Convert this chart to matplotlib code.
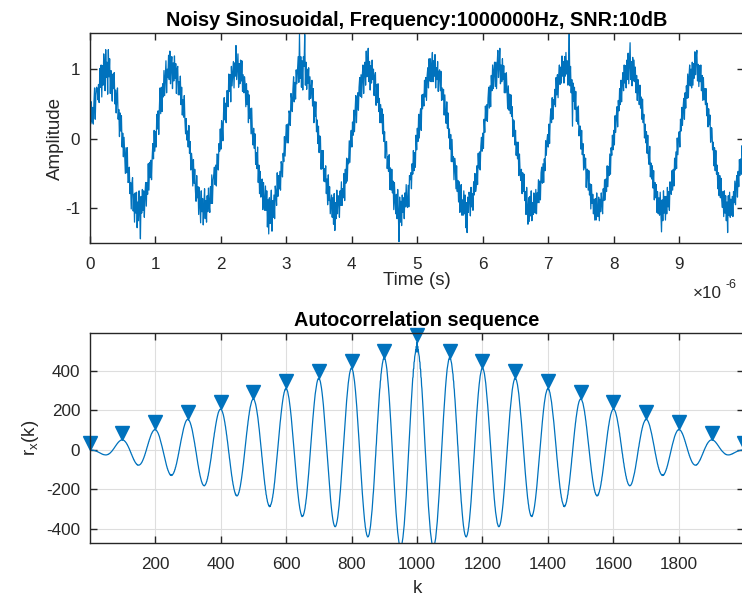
import numpy as np
import matplotlib
matplotlib.use("Agg")
import matplotlib.pyplot as plt
from matplotlib.ticker import FuncFormatter, FixedLocator
from matplotlib.transforms import ScaledTranslation

plt.rcParams['font.family'] = ['Liberation Sans', 'DejaVu Sans']
plt.rcParams['axes.unicode_minus'] = False

# ---- data ----
fs = 100e6            # sampling rate (Hz)
freq = 1e6            # tone frequency (Hz)
# noisy signal samples, in hundredths, one list per microsecond (100 samples each)
period0 = [35, 21, 53, 24, 45, 21, 52, 73, 28, 64, 74, 72, 56, 78, 52, 101, 74, 106, 60, 105,
           77, 122, 103, 69, 128, 88, 110, 64, 128, 89, 115, 65, 98, 73, 54, 93, 72, 95, 50, 70,
           37, 64, 73, 28, 42, 3, 37, 11, 33, -12, 8, -26, 2, -24, -50, -13, -49, -13, -63, -62,
           -41, -79, -63, -101, -65, -56, -104, -80, -120, -78, -107, -77, -128, -91, -118, -75, -105, -144, -83, -107,
           -73, -103, -75, -113, -79, -63, -97, -63, -80, -36, -74, -34, -56, -31, -59, -26, -7, -29, 12, -18]
period1 = [10, -12, 35, 14, 40, 6, 45, 73, 36, 74, 39, 79, 60, 98, 62, 86, 112, 66, 100, 88,
           120, 85, 126, 79, 105, 118, 72, 109, 83, 119, 87, 108, 65, 100, 104, 63, 82, 63, 90, 49,
           74, 34, 56, 31, 62, 26, 7, 29, -2, 11, -12, 19, -21, -4, -45, -21, -32, -68, -30, -64,
           -44, -74, -90, -53, -85, -69, -109, -70, -95, -121, -75, -105, -86, -124, -95, -72, -115, -89, -120, -82,
           -105, -71, -95, -106, -69, -93, -52, -93, -60, -52, -41, -66, -38, -68, -22, -23, -45, -7, -18, 14]
period2 = [-15, 26, 18, -3, 37, 59, 27, 51, 23, 69, 69, 46, 93, 68, 92, 53, 104, 76, 95, 111,
           73, 109, 90, 134, 85, 105, 122, 74, 108, 79, 113, 83, 112, 68, 92, 66, 89, 78, 46, 79,
           49, 69, 23, 63, 29, 43, 7, 44, 8, -9, 15, -14, 7, -37, -20, -43, -12, -63, -38, -79,
           -47, -84, -60, -58, -102, -63, -92, -103, -68, -103, -75, -127, -88, -137, -85, -122, -95, -74, -133, -89,
           -113, -81, -115, -68, -79, -96, -49, -83, -53, -72, -47, -74, -33, -38, -55, -21, -33, 3, -25, 2]
period3 = [20, -6, 21, -6, 40, 36, 19, 65, 58, 39, 71, 89, 53, 81, 57, 99, 79, 98, 118, 81,
           150, 87, 118, 74, 112, 70, 118, 104, 150, 77, 110, 71, 100, 80, 102, 56, 89, 58, 73, 84,
           47, 72, 23, 53, 32, 53, 10, 27, -7, 18, -20, 4, 2, -44, -17, -43, -17, -61, -43, -62,
           -39, -79, -58, -95, -52, -89, -69, -108, -95, -81, -113, -85, -123, -79, -132, -92, -115, -74, -108, -82,
           -85, -113, -75, -96, -62, -96, -72, -85, -50, -89, -44, -64, -28, -61, -29, -36, -3, -34, -3, 12]
period4 = [-12, 24, 5, 41, 10, 41, 62, 23, 53, 66, 41, 74, 88, 61, 92, 59, 92, 106, 65, 98,
           110, 77, 126, 89, 105, 130, 82, 111, 70, 105, 80, 113, 85, 100, 62, 89, 95, 48, 78, 52,
           79, 39, 58, 23, 49, 23, 43, 7, 35, -4, 10, -28, -5, -4, -43, -26, -47, -23, -73, -42,
           -74, -44, -78, -61, -102, -63, -89, -108, -80, -115, -73, -107, -148, -84, -120, -90, -125, -81, -106, -85,
           -115, -78, -98, -66, -96, -99, -67, -98, -53, -59, -49, -72, -36, -51, -17, -46, -20, -41, 5, -16]
period5 = [15, -4, 35, 1, 33, 43, 12, 63, 43, 64, 47, 84, 60, 88, 55, 91, 102, 73, 115, 83,
           115, 82, 106, 124, 82, 112, 90, 121, 73, 102, 85, 111, 68, 96, 99, 69, 97, 55, 73, 56,
           71, 34, 63, 35, 22, 53, 15, 37, 1, 14, -15, 6, -33, -1, -33, -26, -59, -28, -38, -72,
           -39, -76, -60, -91, -62, -106, -74, -66, -110, -88, -110, -75, -108, -81, -128, -92, -135, -84, -106, -77,
           -83, -111, -70, -98, -79, -103, -62, -81, -50, -76, -69, -39, -66, -21, -42, -19, -45, -11, 2, -18]
period6 = [8, -14, 28, 9, 47, 26, 49, 25, 58, 74, 44, 76, 46, 91, 69, 106, 72, 98, 110, 75,
           110, 72, 108, 127, 88, 105, 130, 79, 106, 82, 115, 85, 105, 66, 94, 66, 95, 68, 43, 76,
           41, 64, 36, 63, 32, 46, 3, 27, 25, -9, 12, -24, -5, -29, -5, -53, -22, -48, -60, -44,
           -79, -49, -76, -51, -89, -76, -109, -70, -100, -123, -85, -119, -83, -111, -75, -118, -92, -109, -78, -102,
           -107, -73, -108, -78, -92, -59, -92, -61, -88, -49, -41, -64, -36, -63, -29, -46, -3, -24, -3, 6]
period7 = [-12, 21, -7, 29, 43, 23, 59, 28, 56, 49, 71, 46, 88, 63, 92, 59, 92, 106, 78, 103,
           80, 119, 90, 111, 80, 118, 90, 124, 93, 112, 77, 103, 152, 76, 104, 66, 85, 18, 80, 54,
           74, 42, 68, 25, 45, 21, 47, 4, 18, 18, -15, 12, -23, -7, -45, -23, -42, -28, -70, -44,
           -44, -74, -46, -81, -65, -101, -66, -93, -80, -108, -87, -117, -86, -117, -78, -105, -112, -84, -118, -87,
           -105, -78, -95, -108, -72, -89, -59, -88, -58, -76, -39, -69, -40, -53, -22, -51, -13, -24, 5, -16]
period8 = [12, -9, 33, 9, 33, 46, 17, 55, 40, 72, 49, 84, 53, 81, 95, 69, 106, 80, 105, 73,
           113, 85, 123, 79, 108, 138, 85, 111, 76, 117, 83, 113, 82, 103, 66, 91, 55, 85, 73, 49,
           77, 44, 60, 28, 57, 23, 35, 1, 21, -6, 10, -21, 5, -27, -37, -11, -55, -35, -58, -39,
           -71, -46, -88, -63, -85, -66, -106, -76, -108, -85, -110, -77, -108, -134, -88, -118, -75, -107, -83, -117,
           -83, -108, -70, -98, -76, -103, -62, -78, -80, -46, -74, -44, -68, -28, -45, -19, -43, 1, -23, 2]
period9 = [10, -12, 28, 11, 45, 19, 45, 58, 28, 66, 44, 76, 58, 93, 59, 89, 106, 76, 100, 73,
           110, 77, 108, 87, 125, 92, 118, 127, 83, 107, 75, 105, 82, 106, 69, 91, 55, 88, 56, 72,
           49, 72, 33, 51, 17, 43, 20, 34, -5, 16, 15, -16, -5, -39, -13, -46, -17, -51, -38, -72,
           -49, -82, -53, -85, -57, -89, -99, -76, -112, -75, -107, -82, -118, -91, -135, -82, -110, -77, -113, -87,
           -110, -83, -112, -76, -92, -61, -95, -65, -53, -84, -47, -69, -30, -53, -29, -51, -10, -31, -3, -20]

peak_k = [1, 100, 200, 300, 400, 500, 600, 700, 800, 900, 1000,
          1100, 1200, 1300, 1400, 1500, 1600, 1700, 1800, 1900, 1999]

top_xticks_us = [0, 1, 2, 3, 4, 5, 6, 7, 8, 9]
top_yticks = [-1, 0, 1]
bot_xticks = [200, 400, 600, 800, 1000, 1200, 1400, 1600, 1800]
bot_yticks = [-400, -200, 0, 200, 400]

# ---- derived ----
x = np.array(period0 + period1 + period2 + period3 + period4 +
             period5 + period6 + period7 + period8 + period9, dtype=float) / 100.0
t = np.arange(x.size) / fs
r = np.correlate(x, x, mode='full')
k = np.arange(1, r.size + 1)
pk = np.array(peak_k)
pv = r[pk - 1]

# ---- style ----
blue = '#0072BD'
dark = '#262626'
W, H = 742, 596
fig = plt.figure(figsize=(W / 100, H / 100), dpi=100)

def style(ax):
    for s in ax.spines.values():
        s.set_color(dark)
        s.set_linewidth(1.0)
    ax.tick_params(direction='in', length=5, width=1.0, colors=dark,
                   labelsize=12.3, top=True, right=True)
    ax.tick_params(axis='x', pad=10)
    ax.tick_params(axis='y', pad=7)

ax1 = fig.add_axes([90 / W, 1 - 243 / H, (744 - 90) / W, 210 / H])
ax1.plot(t, x, color=blue, lw=0.9)
ax1.set_xlim(0, t[-1])
ax1.set_ylim(-1.5, 1.52)
ax1.xaxis.set_major_locator(FixedLocator([v * 1e-6 for v in top_xticks_us]))
ax1.xaxis.set_major_formatter(FuncFormatter(lambda v, p: f"{v * 1e6:.0f}"))
ax1.set_yticks(top_yticks)
style(ax1)
ax1.set_title("Noisy Sinosuoidal, Frequency:1000000Hz, SNR:10dB",
              fontsize=14.3, fontweight='bold', color='black', pad=5)
ax1.set_xlabel("Time (s)", fontsize=13.5, color=dark, labelpad=0)
ax1.set_ylabel("Amplitude", fontsize=13.5, color=dark, labelpad=1)
fig.text(693 / W, 1 - 293 / H, "\u00d710", fontsize=12.3, color=dark,
         ha='left', va='center')
fig.text(725 / W, 1 - 285 / H, "-6", fontsize=9, color=dark,
         ha='left', va='center')

ax2 = fig.add_axes([90 / W, 1 - 543 / H, (744 - 90) / W, 210 / H])
ax2.grid(True, color='#DEDEDE', lw=0.8)
ax2.set_axisbelow(True)
ax2.plot(k, r, color=blue, lw=0.9)
ms = 10.5
off = ScaledTranslation(0, ms / 2 / 72, fig.dpi_scale_trans)
ax2.plot(pk, pv, linestyle='none', marker='v', ms=ms, color=blue,
         markeredgecolor=blue, transform=ax2.transData + off, clip_on=False)
ax2.set_xlim(1, k[-1])
ax2.set_ylim(-471, 592)
ax2.set_xticks(bot_xticks)
ax2.set_yticks(bot_yticks)
style(ax2)
ax2.set_title("Autocorrelation sequence", fontsize=14.3, fontweight='bold',
              color='black', pad=5)
ax2.set_xlabel("k", fontsize=13.5, color=dark, labelpad=6)
ax2.set_ylabel(r"r$_\mathregular{x}$(k)", fontsize=13.5, color=dark, labelpad=4)

fig.savefig("out.png", dpi=100)
